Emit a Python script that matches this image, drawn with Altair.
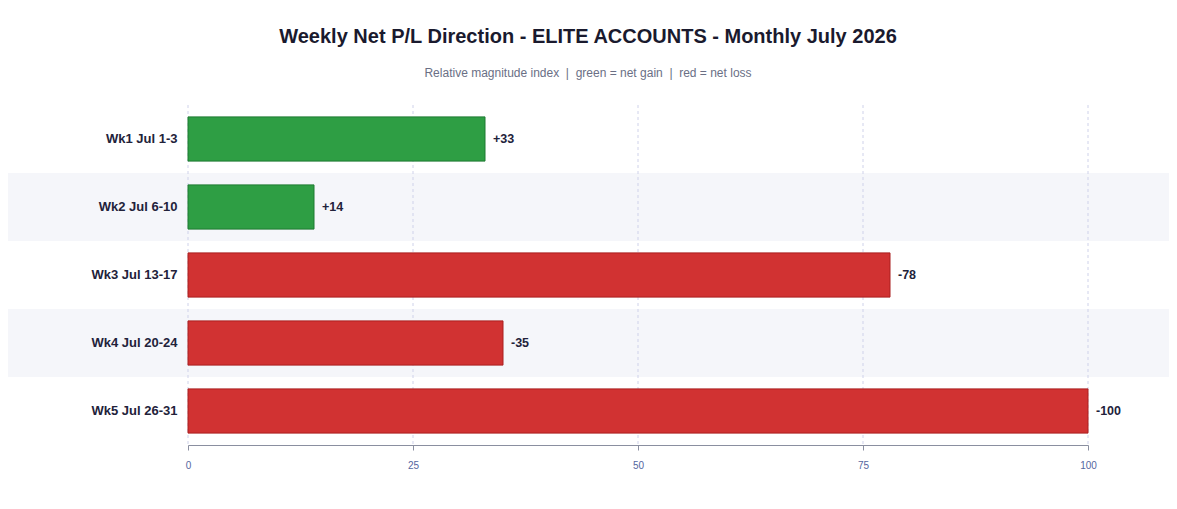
import altair as alt
import pandas as pd

weeks = ["Wk1 Jul 1-3", "Wk2 Jul 6-10", "Wk3 Jul 13-17", "Wk4 Jul 20-24", "Wk5 Jul 26-31"]
net_values = [33, 14, -78, -35, -100]
shaded_rows = [False, True, False, True, False]
tick_values = [0, 25, 50, 75, 100]

df = pd.DataFrame({
    "week": weeks,
    "value": net_values,
    "magnitude": [abs(v) for v in net_values],
    "direction": ["gain" if v >= 0 else "loss" for v in net_values],
    "label": [f"+{v}" if v >= 0 else f"{v}" for v in net_values],
    "shaded": shaded_rows,
})
grid_df = pd.DataFrame({"tick": tick_values})

FONT = "Liberation Sans"
W, H = 900, 340

x_scale = alt.Scale(domain=[0, 100], nice=False, zero=True)
x_axis = alt.Axis(values=tick_values, grid=False, domainColor="#8a8fa0",
                  tickColor="#8a8fa0", tickSize=5, labelColor="#5566a0",
                  labelFont=FONT, labelFontSize=10, labelPadding=10,
                  labelFlush=False, zindex=2)

bands = alt.Chart(df).transform_filter("datum.shaded").mark_rect(
    fill="#f5f6fa"
).encode(
    y=alt.Y("week:N", sort=weeks, axis=None,
            scale=alt.Scale(domain=weeks, paddingInner=0, paddingOuter=0)),
    x=alt.value(-180),
    x2=alt.value(W + 81),
)

grid = alt.Chart(grid_df).mark_rule(
    color="#cfd2ea", strokeDash=[3, 3], strokeWidth=1
).encode(
    x=alt.X("tick:Q", scale=x_scale, title=None, axis=x_axis)
)

y_enc = alt.Y(
    "week:N", sort=weeks, title=None,
    scale=alt.Scale(domain=weeks, paddingInner=0.35, paddingOuter=0.175),
    axis=alt.Axis(labelFont=FONT, labelFontWeight="bold", labelFontSize=13,
                  labelColor="#22223a", ticks=False, domain=False, grid=False,
                  labelPadding=11, zindex=2),
)

bars = alt.Chart(df).mark_bar(strokeWidth=1).encode(
    y=y_enc,
    x=alt.X("magnitude:Q", scale=x_scale, title=None, axis=x_axis),
    fill=alt.Fill("direction:N", legend=None,
                  scale=alt.Scale(domain=["gain", "loss"], range=["#2e9e44", "#d13232"])),
    stroke=alt.Stroke("direction:N", legend=None,
                      scale=alt.Scale(domain=["gain", "loss"], range=["#1d7a31", "#aa1e1e"])),
)

labels = alt.Chart(df).mark_text(
    align="left", baseline="middle", dx=8, font=FONT, fontSize=12.5,
    fontWeight="bold", color="#22223a"
).encode(
    y=y_enc,
    x=alt.X("magnitude:Q", scale=x_scale, title=None, axis=x_axis),
    text="label:N",
)

front = alt.layer(bars, labels)

NB = "\u00a0"
subtitle = f"Relative magnitude index{NB}{NB}|{NB}{NB}green = net gain{NB}{NB}|{NB}{NB}red = net loss"

chart = alt.layer(bands, grid, front).resolve_scale(y="independent").properties(
    width=W, height=H,
    padding={"left": 0, "right": 0, "top": 18, "bottom": 10},
    title=alt.TitleParams(
        text="Weekly Net P/L Direction - ELITE ACCOUNTS - Monthly July 2026",
        subtitle=subtitle,
        font=FONT, fontSize=20, fontWeight="bold", color="#1a1a2e",
        subtitleFont=FONT, subtitleFontSize=12, subtitleColor="#6a6f85",
        subtitlePadding=21, anchor="middle", dx=-50, offset=26,
    ),
).configure_view(stroke=None)

chart.save("out.html", embed_options={"renderer": "svg", "actions": False})
